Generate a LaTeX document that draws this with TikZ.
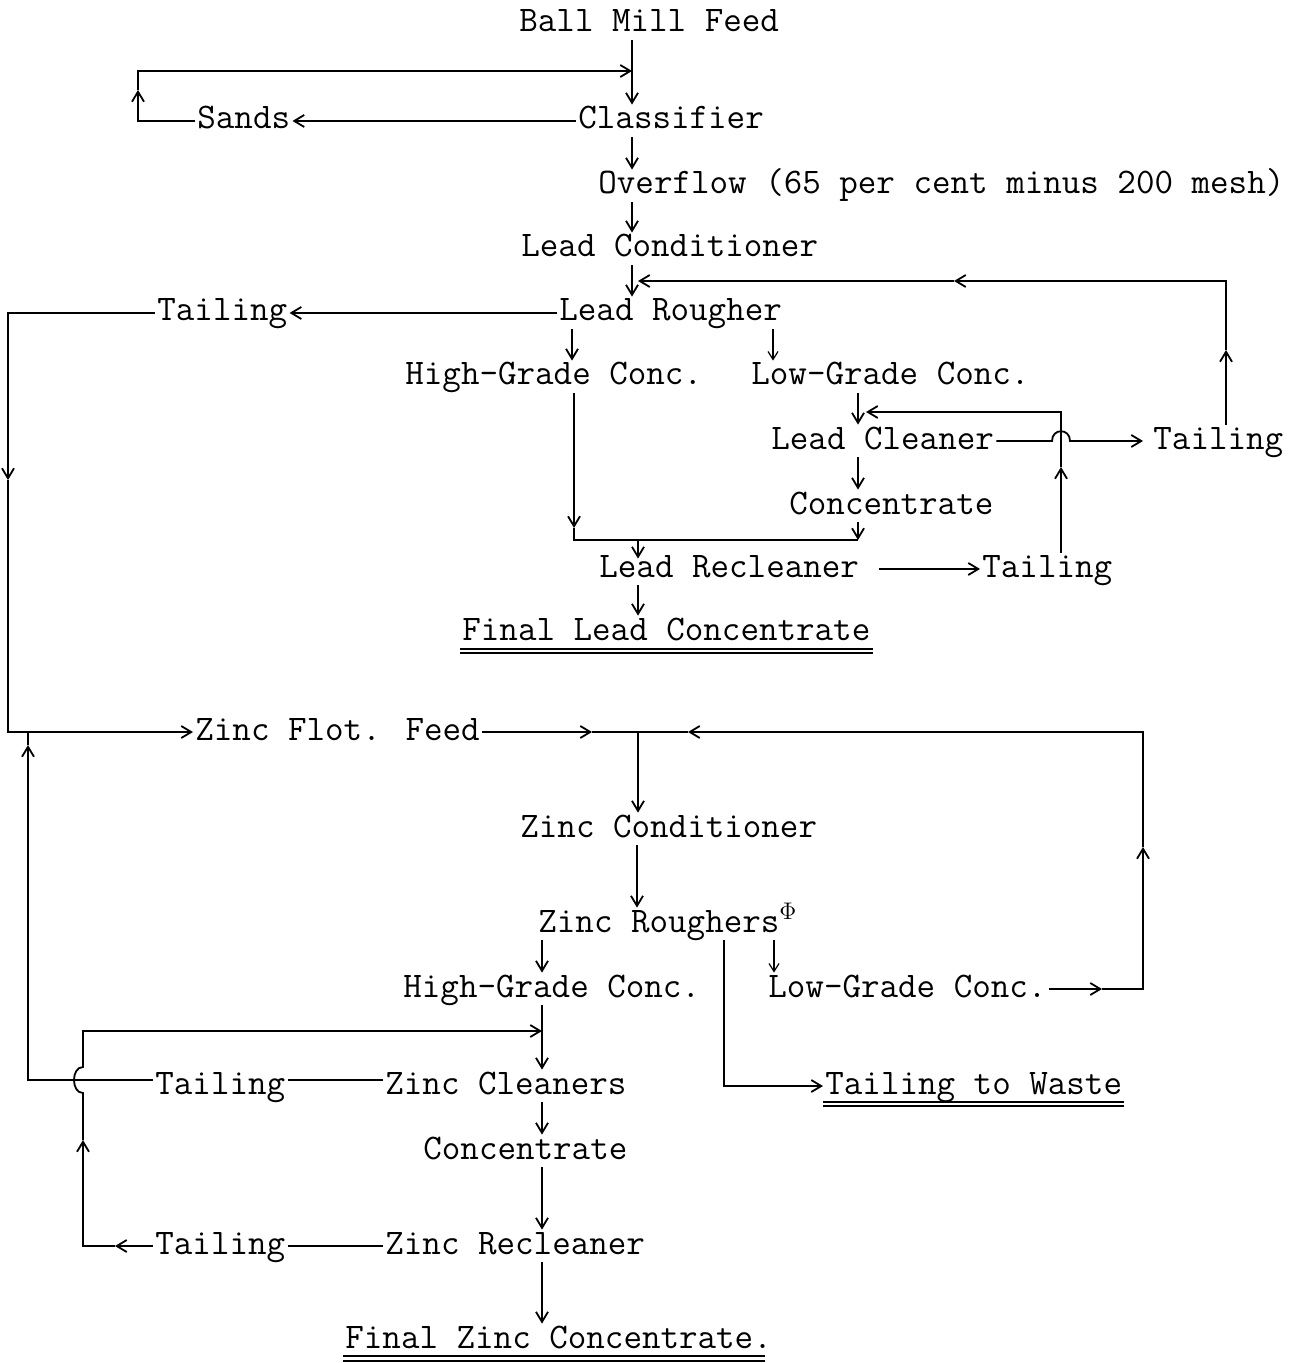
\documentclass[tikz,border=0pt]{standalone}
\usepackage{fontspec}
\usetikzlibrary{arrows.meta,calc}
\begin{document}
\begin{tikzpicture}[x=0.5pt,y=-0.5pt,
  t/.style={font=\ttfamily\fontsize{18}{20}\selectfont, inner sep=1pt, text height=11pt, text depth=3pt, anchor=base west},
  ln/.style={line width=0.9pt},
  arr/.style={ln,-{Straight Barb[length=5pt,width=6pt,line width=0.9pt]}},
  lnthin/.style={line width=0.6pt},
  tarr/.style={lnthin,-{Straight Barb[length=4pt,width=5pt,line width=0.6pt]}},
  ul/.style={line width=0.9pt}]
\fill[white] (0,0) rectangle (1314,1363);
\useasboundingbox (0,0) rectangle (1314,1363);

% ---------- text nodes ----------
\node[t] (feed) at (517,32) {Ball Mill Feed};
\node[t] (class) at (576,129) {Classifier};
\node[t] (sands) at (195,129) {Sands};
\node[t] (over) at (596,194) {Overflow (65 per cent minus 200 mesh)};
\node[t] (lcond) at (519,257) {Lead Conditioner};
\node[t] (lrough) at (557,321) {Lead Rougher};
\node[t] (ltailA) at (155,321) {Tailing};
\node[t] (lhg) at (403,385) {High-Grade Conc.};
\node[t] (llg) at (749,385) {Low-Grade Conc.};
\node[t] (lclean) at (769,449) {Lead Cleaner};
\node[t] (ltailB) at (1151,449) {Tailing};
\node[t] (lconc) at (787,514) {Concentrate};
\node[t] (lrecl) at (597,577) {Lead Recleaner};
\node[t] (ltailC) at (980,577) {Tailing};
\node[t] (lfinal) at (460,640) {Final Lead Concentrate};
\node[t] (zfeed) at (193,740) {Zinc Flot. Feed};
\node[t] (zcond) at (518,837) {Zinc Conditioner};
\node[t] (zrough) at (536,932) {Zinc Roughers\textsuperscript{$\Phi$}};
\node[t] (zhg) at (401,997) {High-Grade Conc.};
\node[t] (zlg) at (766,997) {Low-Grade Conc.};
\node[t] (zwaste) at (823,1094) {Tailing to Waste};
\node[t] (zclean) at (383,1094) {Zinc Cleaners};
\node[t] (ztailA) at (153,1094) {Tailing};
\node[t] (zconc) at (421,1159) {Concentrate};
\node[t] (zrecl) at (383,1254) {Zinc Recleaner};
\node[t] (ztailB) at (153,1254) {Tailing};
\node[t] (zfinal) at (343,1348) {Final Zinc Concentrate.};

% ---------- coordinates ----------
\coordinate (cF) at (632,0);
\coordinate (sA) at (138,71);
\coordinate (sB) at (138,90);
\coordinate (jA) at (632,71);
\coordinate (rA) at (1226,281);
\coordinate (rB) at (1226,350);
\coordinate (rC) at (954,281);
\coordinate (rD) at (638,281);
\coordinate (lA) at (8,480);
\coordinate (cHG) at (572,0);
\coordinate (cLG) at (773,0);
\coordinate (hA) at (574,528);
\coordinate (hB) at (574,540);
\coordinate (hC) at (858,540);
\coordinate (hJ) at (638,540);
\coordinate (cCl) at (858,0);
\coordinate (tA) at (1061,467);
\coordinate (tB) at (1061,412);
\coordinate (tC) at (866,412);
\coordinate (hpL) at (1052,0);
\coordinate (hpR) at (1070,0);
\coordinate (zJ) at (638,732);
\coordinate (zM) at (592,732);
\coordinate (zLa) at (1102,0);
\coordinate (zRm) at (1143,847);
\coordinate (zRt) at (1143,732);
\coordinate (zN) at (688,732);
\coordinate (zC) at (637,0);
\coordinate (zH) at (542,0);
\coordinate (zL) at (774,0);
\coordinate (zW) at (724,0);
\coordinate (cA) at (83,1031);
\coordinate (cAj) at (542,1031);
\coordinate (kA) at (28,745);
\coordinate (kB) at (28,732);
\coordinate (qA) at (115,0);
\coordinate (qM) at (83,1140);
\coordinate (qH1) at (83,1093);
\coordinate (qH2) at (83,1067);
\coordinate (zU) at (765,0);

% ---------- grinding circuit ----------
\draw[arr] (feed.south -| cF) -- (class.north -| cF);
\draw[arr] (class.west) -- (sands.east);
\draw[arr] (sands.west) -| (sB);
\draw[arr] (sB) -- (sA) -- (jA);
\draw[arr] (class.south -| cF) -- (over.north -| cF);
\draw[arr] (over.south -| cF) -- (lcond.north -| cF);
\draw[arr] (lcond.south -| cF) -- (lrough.north -| cF);

% ---------- lead circuit ----------
\draw[arr] (ltailB.north -| rA) -- (rB);
\draw[arr] (rB) -- (rA) -- (rC);
\draw[arr] (rC) -- (rD);
\draw[arr] (lrough.west) -- (ltailA.east);
\draw[arr] (ltailA.west) -| (lA);
\draw[arr] (lA) |- (zfeed.west);
\draw[arr] (lrough.south -| cHG) -- (lhg.north -| cHG);
\draw[tarr] (lrough.south -| cLG) -- (llg.north -| cLG);
\draw[arr] (lhg.south -| hA) -- (hA);
\draw[ln] (hA) -- (hB) -- (hC);
\draw[arr] (lconc.south -| cCl) -- (hC);
\draw[arr] (hJ) -- ($(lrecl.north -| hJ)+(0,6)$);
\draw[arr] (llg.south -| cCl) -- (lclean.north -| cCl);
\draw[arr] (lclean.south -| cCl) -- (lconc.north -| cCl);
\draw[arr] (ltailC.north -| tA) -- (tA);
\draw[arr] (tA) -- (tB) -- (tC);
\draw[arr] (lclean.east) -- (lclean.east -| hpL)
   .. controls ($(lclean.east -| hpL)+(0,-13)$) and ($(lclean.east -| hpR)+(0,-13)$) .. (lclean.east -| hpR)
   -- ($(ltailB.west)+(-8,0)$);
\draw[arr] ($(lrecl.east)+(18,0)$) -- (ltailC.west);
\draw[arr] (lrecl.south -| hJ) -- (lfinal.north -| hJ);
\draw[ul] ($(lfinal.base west)+(0,9)$) -- ($(lfinal.base east)+(0,9)$);
\draw[ul] ($(lfinal.base west)+(0,13)$) -- ($(lfinal.base east)+(0,13)$);

% ---------- zinc circuit ----------
\draw[arr] (zfeed.east) -- (zM);
\draw[ln] (zM) -- (zJ);
\draw[arr] (zlg.east) -- (zlg.east -| zLa);
\draw[arr] (zlg.east -| zLa) -| (zRm);
\draw[arr] (zRm) -- (zRt) -- (zN);
\draw[ln] (zN) -- (zJ);
\draw[arr] (zJ) -- (zcond.north -| zJ);
\draw[arr] (zcond.south -| zC) -- (zrough.north -| zC);
\draw[arr] (zrough.south -| zH) -- (zhg.north -| zH);
\draw[tarr] (zrough.south -| zL) -- (zlg.north -| zL);
\draw[arr] (zrough.south -| zW) |- (zwaste.west);
\draw[ul] ($(zwaste.base west)+(0,8)$) -- ($(zwaste.base east)+(0,8)$);
\draw[ul] ($(zwaste.base west)+(0,12)$) -- ($(zwaste.base east)+(0,12)$);
\draw[arr] (zhg.south -| zH) -- (zclean.north -| zH);
\draw[ln] ($(zclean.west)+(0,-6)$) -- ($(ztailA.east)+(0,-6)$);
\draw[arr] ($(ztailA.west)+(0,-6)$) -| (kA);
\draw[ln] (kA) -- (kB);
\draw[ln] (zrecl.west) -- (ztailB.east);
\draw[arr] (ztailB.west) -- (ztailB.west -| qA);
\draw[arr] (ztailB.west -| qA) -| (qM);
\draw[arr] (qM) -- (qH1) .. controls ($(qH1)+(-12,0)$) and ($(qH2)+(-12,0)$) .. (qH2) -- (cA) -- (cAj);
\draw[arr] (zclean.south -| zH) -- (zconc.north -| zH);
\draw[arr] (zconc.south -| zH) -- (zrecl.north -| zH);
\draw[arr] (zrecl.south -| zH) -- (zfinal.north -| zH);
\draw[ul] ($(zfinal.base west)+(0,8)$) -- ($(zfinal.base west -| zU)+(0,8)$);
\draw[ul] ($(zfinal.base west)+(0,13)$) -- ($(zfinal.base west -| zU)+(0,13)$);
\end{tikzpicture}
\end{document}
